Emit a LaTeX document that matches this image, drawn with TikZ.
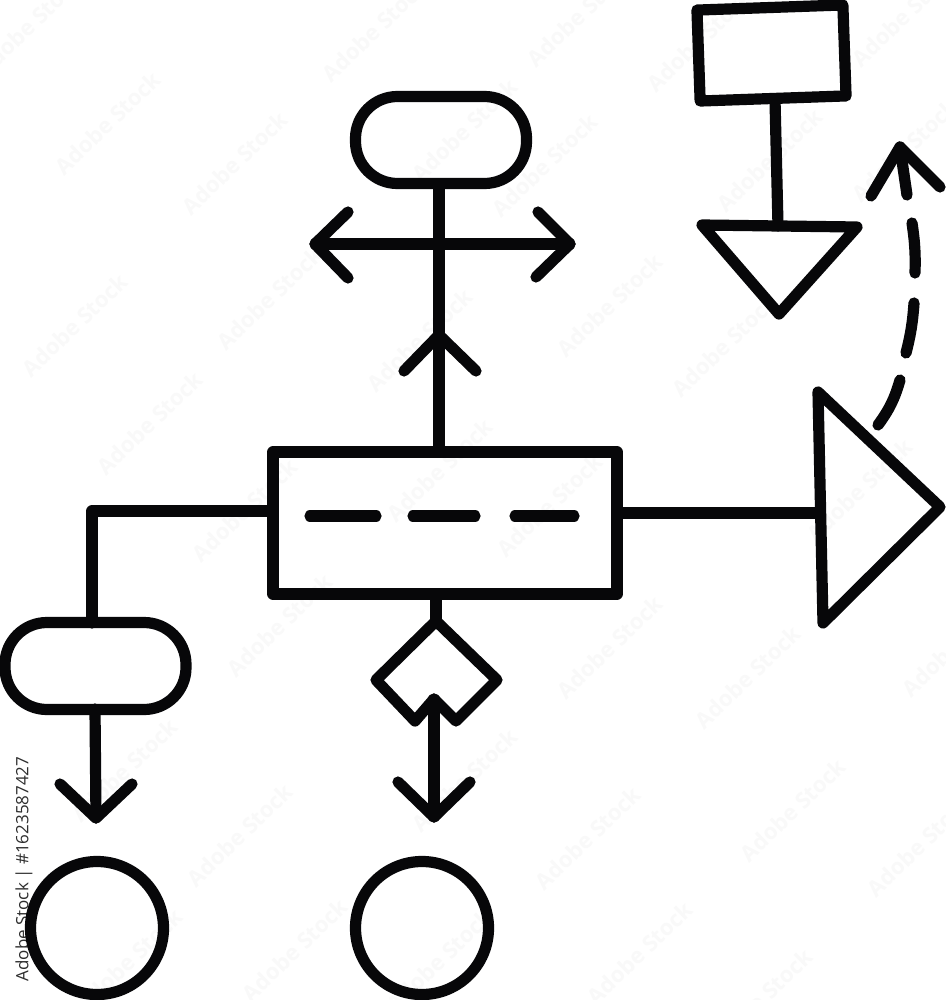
\documentclass[tikz,border=0pt]{standalone}
\usepackage{fontspec}
\setmainfont{Open Sans}
\definecolor{inkblack}{HTML}{070709}
\tikzset{
  ink/.style={draw=inkblack,line width=11.2pt,line cap=round,line join=round},
  boxnode/.style={ink,rectangle,inner sep=0pt},
  pill/.style={ink,rectangle,rounded corners=42pt,inner sep=0pt,minimum height=87pt},
  ring/.style={ink,circle,inner sep=0pt,minimum size=133pt},
  wmark/.style={text=black!2.5,font=\fontsize{22}{22}\selectfont\bfseries,rotate=44,inner sep=0pt},
  sidetext/.style={text=black!82,font=\fontsize{17}{17}\selectfont,rotate=90,inner sep=0pt},
}
\begin{document}
\begin{tikzpicture}[x=1pt,y=-1pt]
\useasboundingbox (0,0) rectangle (945,1000);
\fill[white] (0,0) rectangle (945,1000);
% faint repeated marks
\foreach \wx/\wy [count=\wi] in {30/25,108/123,235/163,75/325,270/298,150/423,375/30,465/130,545/165,610/305,420/340,725/345,550/505,440/470,245/510,280/625,610/647,748/677,793/810,588/838,640/953,920/845,955/645,760/1000,240/835,125/770,465/780,440/960,130/960,295/950,905/150,770/160,905/15,580/15,700/40,860/490}
  \node[wmark] (wm\wi) at (\wx,\wy) {Adobe Stock};
\node[sidetext] (idline) at (24,869) {Adobe Stock | \#1623587427};

% shapes
\node[boxnode,minimum width=344pt,minimum height=142pt] (main) at (445,523) {};
\node[boxnode,minimum width=146pt,minimum height=91pt,rotate=2] (toprect) at (771.5,53) {};
\node[pill,minimum width=171pt] (toppill) at (441,140) {};
\node[pill,minimum width=181pt] (leftpill) at (95.5,666) {};
\node[ring] (leftring) at (97,928) {};
\node[ring] (midring) at (422,928) {};

% points of the polygons
\coordinate (ra) at (818,392); \coordinate (rb) at (940,507); \coordinate (rc) at (823,623);
\coordinate (ta) at (702,225); \coordinate (tb) at (857,227); \coordinate (tc) at (779,314);
\coordinate (da) at (436,621); \coordinate (db) at (497,680); \coordinate (dc) at (456,721);
\coordinate (dn) at (434,699); \coordinate (dd) at (415,721); \coordinate (de) at (376,680);
\draw[ink] (ra) -- (rb) -- (rc) -- cycle;
\draw[ink] (ta) -- (tb) -- (tc) -- cycle;
\draw[ink] (da) -- (db) -- (dc) -- (dn) -- (dd) -- (de) -- cycle;

% dashes inside the main box
\coordinate (d1a) at (310,516); \coordinate (d1b) at (376,516);
\coordinate (d2a) at (413,516); \coordinate (d2b) at (475,516);
\coordinate (d3a) at (515,516); \coordinate (d3b) at (574,516);
\draw[ink] (d1a) -- (d1b);
\draw[ink] (d2a) -- (d2b);
\draw[ink] (d3a) -- (d3b);

% connectors
\coordinate (upa) at (439,184); \coordinate (upb) at (439,452);
\draw[ink] (upa) -- (upb);
\coordinate (xl) at (315,244); \coordinate (xr) at (570,244);
\draw[ink] (xl) -- (xr);
\coordinate (xl1) at (348,212); \coordinate (xl2) at (348,278);
\draw[ink] (xl1) -- (xl) -- (xl2);
\coordinate (xr1) at (538,212); \coordinate (xr2) at (536,277);
\draw[ink] (xr1) -- (xr) -- (xr2);
\coordinate (ua) at (404,371); \coordinate (ub) at (439,335); \coordinate (uc) at (476,371);
\draw[ink] (ua) -- (ub) -- (uc);
\coordinate (lm) at (273,511); \coordinate (lc) at (92,511); \coordinate (lp) at (92,623);
\draw[ink] (lm) -- (lc) -- (lp);
\coordinate (rm) at (617,513); \coordinate (rt) at (820,513);
\draw[ink] (rm) -- (rt);
\coordinate (tra) at (775,100); \coordinate (trb) at (778,226);
\draw[ink] (tra) -- (trb);
\coordinate (mda) at (436,594);
\draw[ink] (mda) -- (da);
\coordinate (dtip) at (434,817); \coordinate (dt1) at (398,782); \coordinate (dt2) at (470,782);
\draw[ink] (dn) -- (dtip);
\draw[ink] (dt1) -- (dtip) -- (dt2);
\coordinate (ptop) at (95,709); \coordinate (ptip) at (96,818); \coordinate (pt1) at (60,784); \coordinate (pt2) at (132,784);
\draw[ink] (ptop) -- (ptip);
\draw[ink] (pt1) -- (ptip) -- (pt2);

% dashed curve with its arrow
\coordinate (c1a) at (878,425); \coordinate (c1b) at (900,380);
\coordinate (c2a) at (906,353); \coordinate (c2b) at (914,303);
\coordinate (c3a) at (915,273); \coordinate (c3b) at (912,223);
\coordinate (c4a) at (907,195); \coordinate (c4b) at (900,147);
\coordinate (hl) at (871,196); \coordinate (hr) at (940,187);
\draw[ink] (c1a) to[bend right=10] (c1b);
\draw[ink] (c2a) to[bend right=5] (c2b);
\draw[ink] (c3a) to[bend right=5] (c3b);
\draw[ink] (c4a) -- (c4b);
\draw[ink] (hl) -- (c4b) -- (hr);
\end{tikzpicture}
\end{document}
